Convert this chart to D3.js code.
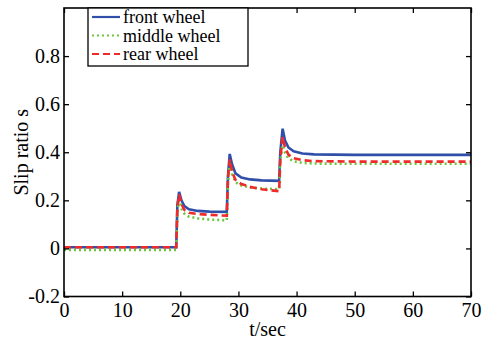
<!DOCTYPE html>
<html>
<head>
<meta charset="utf-8">
<script src="https://cdn.jsdelivr.net/npm/d3@7"></script>
<style>
  body { margin: 0; background: #fff; }
  text { font-family: "Liberation Serif", "Times New Roman", serif; }
</style>
</head>
<body>
<svg id="chart" width="488" height="344"></svg>
<script>
// time (s), slip ratio pairs
const frontWheel = [
  [0, 0.005], [19.3, 0.005], [19.5, 0.18], [19.8, 0.235], [20.2, 0.2], [20.7, 0.176],
  [21.5, 0.163], [23, 0.156], [25, 0.153], [28, 0.152], [28.2, 0.3], [28.5, 0.393],
  [28.9, 0.35], [29.5, 0.312], [30.5, 0.295], [32, 0.287], [34, 0.283], [37, 0.281],
  [37.2, 0.4], [37.6, 0.498], [38, 0.45], [38.6, 0.42], [39.5, 0.404], [41, 0.395],
  [43, 0.391], [50, 0.389], [70, 0.389]
];
const middleWheel = [
  [0, -0.006], [19.3, -0.006], [19.5, 0.15], [19.8, 0.21], [20.2, 0.165], [20.7, 0.145],
  [21.5, 0.132], [23, 0.125], [25, 0.12], [28, 0.117], [28.2, 0.27], [28.5, 0.36],
  [28.9, 0.31], [29.5, 0.275], [30.5, 0.262], [32, 0.254], [34, 0.249], [37, 0.246],
  [37.2, 0.36], [37.6, 0.44], [38, 0.4], [38.6, 0.375], [39.5, 0.362], [41, 0.356],
  [43, 0.353], [50, 0.352], [70, 0.352]
];
const rearWheel = [
  [0, 0.005], [19.3, 0.005], [19.5, 0.17], [19.8, 0.225], [20.2, 0.185], [20.7, 0.16],
  [21.5, 0.148], [23, 0.143], [25, 0.14], [28, 0.136], [28.2, 0.29], [28.5, 0.37],
  [28.9, 0.32], [29.5, 0.285], [30.5, 0.268], [32, 0.256], [34, 0.246], [37, 0.238],
  [37.2, 0.37], [37.6, 0.465], [38, 0.42], [38.6, 0.39], [39.5, 0.375], [41, 0.367],
  [43, 0.363], [50, 0.361], [70, 0.361]
];
const seriesNames = ["front wheel", "middle wheel", "rear wheel"];
const xTicks = [0, 10, 20, 30, 40, 50, 60, 70];
const yTicks = [-0.2, 0, 0.2, 0.4, 0.6, 0.8];
const yTickLabels = ["-0.2", "0", "0.2", "0.4", "0.6", "0.8"];

const svg = d3.select("#chart");
const plotLeft = 64, plotRight = 471, plotTop = 8, plotBottom = 296.5;

const x = d3.scaleLinear().domain([0, 70]).range([plotLeft, plotRight]);
const y = d3.scaleLinear().domain([-0.2, 1.0]).range([plotBottom, plotTop]);

const series = [
  { name: seriesNames[0], data: frontWheel, color: "#2f4fa9", dash: null },
  { name: seriesNames[1], data: middleWheel, color: "#6cc53a", dash: "2,3" },
  { name: seriesNames[2], data: rearWheel, color: "#f02a2a", dash: "7,4" }
];

const line = d3.line().x(d => x(d[0])).y(d => y(d[1]));

// data lines
for (const s of series) {
  svg.append("path")
    .datum(s.data)
    .attr("d", line)
    .attr("fill", "none")
    .attr("stroke", s.color)
    .attr("stroke-width", 2.6)
    .attr("stroke-dasharray", s.dash);
}

// axes with inward ticks on all sides
const tickStyle = g => {
  g.select(".domain").remove();
  g.selectAll("line").attr("stroke", "#000").attr("stroke-width", 1.3);
  g.selectAll("text").attr("font-size", 20).attr("fill", "#000")
    .attr("font-family", "'Liberation Serif', serif");
};

svg.append("g").attr("transform", `translate(0,${plotBottom})`)
  .call(d3.axisBottom(x).tickValues(xTicks).tickSizeInner(-5).tickPadding(6).tickFormat(d3.format("d")))
  .call(tickStyle);
svg.append("g").attr("transform", `translate(0,${plotTop})`)
  .call(d3.axisTop(x).tickValues(xTicks).tickSizeInner(-5).tickFormat(""))
  .call(tickStyle);
svg.append("g").attr("transform", `translate(${plotLeft},0)`)
  .call(d3.axisLeft(y).tickValues(yTicks).tickSizeInner(-5).tickPadding(4)
    .tickFormat((d, i) => yTickLabels[i]))
  .call(tickStyle);
svg.append("g").attr("transform", `translate(${plotRight},0)`)
  .call(d3.axisRight(y).tickValues(yTicks).tickSizeInner(-5).tickFormat(""))
  .call(tickStyle);

svg.append("rect")
  .attr("x", plotLeft).attr("y", plotTop)
  .attr("width", plotRight - plotLeft).attr("height", plotBottom - plotTop)
  .attr("fill", "none").attr("stroke", "#000").attr("stroke-width", 1.6);

// axis titles
svg.append("text")
  .attr("x", (plotLeft + plotRight) / 2).attr("y", 336)
  .attr("text-anchor", "middle").attr("font-size", 20)
  .text("t/sec");
svg.append("text")
  .attr("transform", `translate(28,${(plotTop + plotBottom) / 2}) rotate(-90)`)
  .attr("text-anchor", "middle").attr("font-size", 20)
  .text("Slip ratio s");

// legend
const legend = svg.append("g");
legend.append("rect")
  .attr("x", 88).attr("y", 8).attr("width", 160).attr("height", 58)
  .attr("fill", "#fff").attr("stroke", "#000").attr("stroke-width", 1.3);
series.forEach((s, i) => {
  const ly = 17 + i * 18.5;
  legend.append("line")
    .attr("x1", 92).attr("x2", 120).attr("y1", ly).attr("y2", ly)
    .attr("stroke", s.color).attr("stroke-width", 2.2)
    .attr("stroke-dasharray", s.dash);
  legend.append("text")
    .attr("x", 123).attr("y", ly + 6)
    .attr("font-size", 18)
    .text(s.name);
});
</script>
</body>
</html>
